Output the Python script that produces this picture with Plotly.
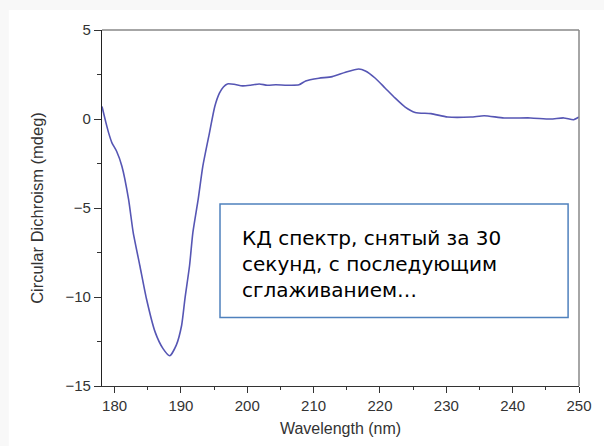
import plotly.graph_objects as go

# CD spectrum: wavelength (nm) and ellipticity (mdeg)
wavelength = [178.1, 178.7, 179.1, 179.6, 180.3, 181.1, 182.1, 182.8, 183.8, 184.8,
              186.1, 187.3, 188.3, 189.3, 190.1, 190.6, 191.3, 191.8, 192.6, 193.3,
              194.3, 195.1, 195.8, 196.4, 197.0, 198.0, 199.3, 200.5, 201.8, 203.0,
              204.3, 206.0, 207.8, 208.8, 210.8, 212.8, 214.8, 216.8, 217.8, 219.3,
              220.8, 222.3, 223.8, 225.3, 227.7, 230.2, 233.7, 235.7, 238.7, 242.7,
              245.7, 247.7, 249.2, 250.0]
cd_mdeg = [0.70, -0.22, -0.78, -1.34, -1.81, -2.65, -4.50, -6.37, -8.23, -10.10,
           -11.96, -12.90, -13.30, -12.70, -11.60, -10.10, -8.23, -6.37, -4.50, -2.65,
           -0.78, 0.70, 1.45, 1.80, 1.97, 1.95, 1.86, 1.90, 1.97, 1.90,
           1.92, 1.90, 1.92, 2.14, 2.29, 2.38, 2.63, 2.81, 2.70, 2.29,
           1.73, 1.17, 0.67, 0.37, 0.30, 0.11, 0.11, 0.18, 0.06, 0.06,
           0.00, 0.06, -0.04, 0.11]

x_ticks = [180, 190, 200, 210, 220, 230, 240, 250]
y_ticks = [5, 0, -5, -10, -15]

W, H = 604, 446
L, R, T, B = 102, 583, 30, 388


def px(xp):
    return (xp - L) / (R - L)


def py(yp):
    return (B - yp) / (B - T)


fig = go.Figure()
fig.add_trace(go.Scatter(
    x=wavelength, y=cd_mdeg, mode="lines",
    line=dict(color="#5656b4", width=1.6, shape="spline", smoothing=0.6),
    hoverinfo="skip", showlegend=False,
))

font = "Liberation Sans, Arial, sans-serif"
ink = "#333333"

fig.update_layout(
    width=W, height=H,
    margin=dict(l=L, r=W - R, t=T, b=H - B),
    paper_bgcolor="#f8f8f8",
    plot_bgcolor="white",
    font=dict(family=font, size=15, color=ink),
    xaxis=dict(
        range=[178.1, 250], tickvals=x_ticks, ticks="outside", ticklen=6,
        tickwidth=1, tickcolor=ink, showgrid=False, zeroline=False,
        showline=True, linecolor=ink, linewidth=1.2,
        minor=dict(dtick=5, tick0=180, ticks="outside", ticklen=3, tickcolor=ink),
        tickfont=dict(size=15, color=ink),
        title=dict(text="Wavelength (nm)", font=dict(size=16, color=ink), standoff=9),
    ),
    yaxis=dict(
        range=[-15, 5], tickvals=y_ticks, ticks="outside", ticklen=7,
        tickwidth=1, tickcolor=ink, showgrid=False, zeroline=False,
        showline=True, linecolor="#222222", linewidth=1.2,
        minor=dict(dtick=2.5, tick0=0, ticks="outside", ticklen=4, tickcolor=ink),
        tickfont=dict(size=15, color=ink),
        title=dict(text="Circular Dichroism (mdeg)", font=dict(size=16.5, color=ink), standoff=17),
    ),
    shapes=[
        # white page area inside the faint outer margin
        dict(type="rect", xref="paper", yref="paper", layer="below",
             x0=px(8), x1=px(W + 5), y0=py(H + 5), y1=py(10),
             line=dict(width=0), fillcolor="white"),
        # top and right frame lines
        dict(type="line", xref="paper", yref="paper", x0=0, x1=1, y0=1, y1=1,
             line=dict(color="#888888", width=1.5)),
        dict(type="line", xref="paper", yref="paper", x0=1, x1=1, y0=0, y1=1,
             line=dict(color="#888888", width=1.5)),
        # text box
        dict(type="rect", xref="paper", yref="paper",
             x0=px(221), x1=px(572), y0=py(319), y1=py(205),
             line=dict(color="#4f81bd", width=1.5), fillcolor="white"),
    ],
    annotations=[
        dict(xref="paper", yref="paper", x=px(241), y=py(265),
             xanchor="left", yanchor="middle", align="left", showarrow=False,
             text="КД спектр, снятый за 30<br>секунд, с последующим<br>сглаживанием…",
             font=dict(family="DejaVu Sans, sans-serif", size=20, color="black")),
    ],
)

fig.write_html("out.html")
